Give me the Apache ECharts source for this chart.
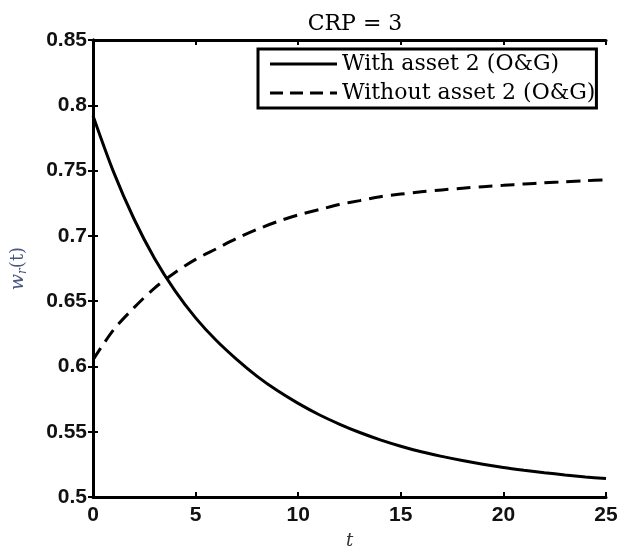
<!DOCTYPE html>
<html><head><meta charset="utf-8">
<script src="https://cdn.jsdelivr.net/npm/echarts@6/dist/echarts.min.js"></script>
<style>html,body{margin:0;padding:0;background:#fff}#c{width:625px;height:555px}</style>
</head><body><div id="c"></div>
<script>
var tValues = [0,1,2,3,4,5,6,7,8,9,10,11,12,13,14,15,16,17,18,19,20,21,22,23,24,25];
var withAsset = [0.792,0.749,0.7129,0.6827,0.6579,0.6372,0.620,0.6054,0.5924,0.5813,0.5717,0.5632,0.5559,0.5494,0.5438,0.5389,0.5346,0.5311,0.5279,0.5251,0.5226,0.5205,0.5186,0.5169,0.5154,0.5141];
var withoutAsset = [0.605,0.628,0.645,0.660,0.672,0.682,0.690,0.698,0.705,0.711,0.716,0.720,0.724,0.727,0.730,0.732,0.7337,0.7352,0.7365,0.7377,0.7387,0.7397,0.7406,0.7414,0.7422,0.743];
var xTicks = [0,5,10,15,20,25];
var yTicks = [0.5,0.55,0.6,0.65,0.7,0.75,0.8,0.85];
var seriesNames = ['With asset 2 (O&G)','Without asset 2 (O&G)'];
var titleText = 'CRP = 3';

function pairs(xs, ys){ return xs.map(function(x,i){ return [x, ys[i]]; }); }

var chart = echarts.init(document.getElementById('c'), null, {renderer:'canvas'});
var tickFont = {fontFamily:'Liberation Sans', fontWeight:'bold', fontSize:21, color:'#111'};
var axisLine = {show:true, lineStyle:{color:'#000', width:3}};
var axisTick = {show:true, inside:true, length:5, lineStyle:{color:'#000', width:2}};
var solidIcon = 'path://M0,0h67v3h-67z';
var dashIcon = 'path://M0,0h13v3h-13z M20,0h13v3h-13z M40,0h13v3h-13z M60,0h7v3h-7z';
chart.setOption({
  animation:false,
  backgroundColor:'#fff',
  title:{text:titleText, left:350, textAlign:'center', top:8,
    textStyle:{fontFamily:'DejaVu Serif', fontWeight:'normal', fontSize:22, color:'#000'}},
  grid:{left:93, right:19, top:40, bottom:53, containLabel:false},
  legend:{
    orient:'vertical', left:258, top:49,
    backgroundColor:'#fff', borderColor:'#000', borderWidth:3,
    padding:[3,1,3,12], itemGap:5, itemWidth:67, itemHeight:3,
    itemStyle:{color:'#000', borderWidth:0},
    textStyle:{fontFamily:'DejaVu Serif', fontSize:22, color:'#000', padding:[0,0,0,0], lineHeight:24},
    data:[{name:seriesNames[0], icon:solidIcon},{name:seriesNames[1], icon:dashIcon}]
  },
  xAxis:[{
    type:'value', min:0, max:25, interval:5,
    axisLine:axisLine, axisTick:axisTick, splitLine:{show:false},
    axisLabel:Object.assign({margin:8, formatter:function(v){return xTicks.indexOf(v)>=0?String(v):'';}}, tickFont),
    name:'t', nameLocation:'middle', nameGap:35,
    nameTextStyle:{fontFamily:'DejaVu Serif', fontStyle:'italic', fontSize:18, color:'#333'}
  },{
    type:'value', position:'top', min:0, max:25, interval:5,
    axisLine:axisLine, axisTick:axisTick, axisLabel:{show:false}, splitLine:{show:false}
  }],
  yAxis:[{
    type:'value', min:0.5, max:0.85, interval:0.05,
    axisLine:axisLine, axisTick:axisTick, splitLine:{show:false},
    axisLabel:Object.assign({margin:6, formatter:function(v){
      var r = Math.round(v*100)/100; return String(r);}}, tickFont),
    name:'{w|w}{r|r}{p|(t)}', nameLocation:'middle', nameGap:64, nameRotate:90,
    nameTextStyle:{color:'#4a5580', rich:{
      w:{fontFamily:'DejaVu Serif', fontStyle:'italic', fontSize:19, color:'#4a5580'},
      r:{fontFamily:'DejaVu Serif', fontStyle:'italic', fontSize:12, color:'#4a5580', verticalAlign:'bottom', padding:[9,0,0,0]},
      p:{fontFamily:'DejaVu Serif', fontSize:18, color:'#4a5580'}
    }}
  },{
    type:'value', position:'right', min:0.5, max:0.85, interval:0.05,
    axisLine:axisLine, axisTick:axisTick, axisLabel:{show:false}, splitLine:{show:false}
  }],
  series:[{
    name:seriesNames[0], type:'line', data:pairs(tValues, withAsset),
    smooth:0.3, showSymbol:false, symbol:'none',
    lineStyle:{color:'#000', width:3, type:'solid'}, itemStyle:{color:'#000'}
  },{
    name:seriesNames[1], type:'line', data:pairs(tValues, withoutAsset),
    smooth:0.3, showSymbol:false, symbol:'none',
    lineStyle:{color:'#000', width:3, type:[14,8]}, itemStyle:{color:'#000'}
  }]
});
</script></body></html>
